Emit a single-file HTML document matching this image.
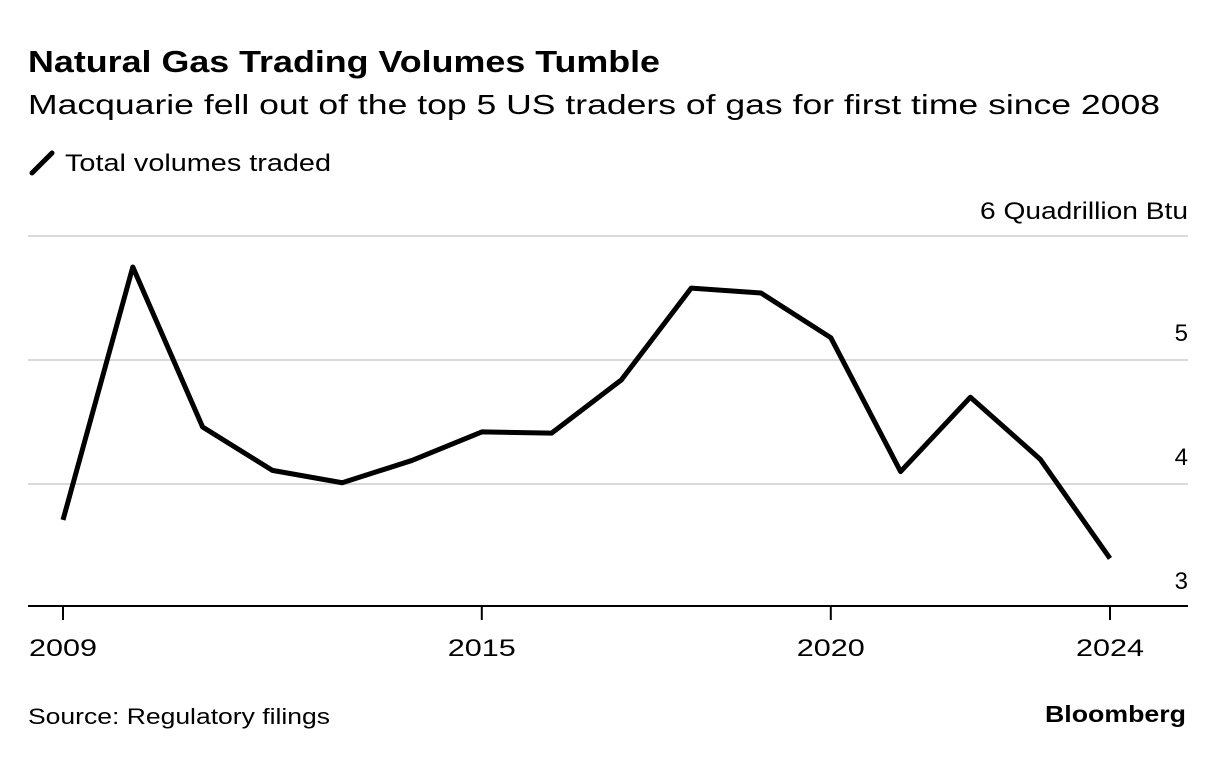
<!DOCTYPE html>
<html><head><meta charset="utf-8"><style>
body{margin:0;background:#fff;width:1223px;height:756px;overflow:hidden;font-family:"Liberation Sans",sans-serif;color:#000}
svg text{font-family:"Liberation Sans",sans-serif}
</style></head><body>
<svg width="1223" height="756">
<text x="28" y="72" font-size="31" font-weight="bold" textLength="632" lengthAdjust="spacingAndGlyphs">Natural Gas Trading Volumes Tumble</text>
<text x="28" y="114" font-size="28" textLength="1132" lengthAdjust="spacingAndGlyphs">Macquarie fell out of the top 5 US traders of gas for first time since 2008</text>
<line x1="32" y1="173" x2="52" y2="153" stroke="#000" stroke-width="5" stroke-linecap="round"/>
<text x="65" y="171" font-size="24" textLength="266" lengthAdjust="spacingAndGlyphs">Total volumes traded</text>
<g id="grid"></g>
<g id="xaxis"></g>
<path id="line" fill="none" stroke="#000" stroke-width="5" stroke-linejoin="round"/>
<text x="28" y="724" font-size="22" textLength="302" lengthAdjust="spacingAndGlyphs">Source: Regulatory filings</text>
<text x="1045" y="722" font-size="23" font-weight="bold" textLength="141" lengthAdjust="spacingAndGlyphs">Bloomberg</text>
</svg>
<script>
const years=[2009,2010,2011,2012,2013,2014,2015,2016,2017,2018,2019,2020,2021,2022,2023,2024];
const volumes=[3.71,5.75,4.46,4.11,4.01,4.19,4.42,4.41,4.84,5.58,5.54,5.18,4.10,4.70,4.20,3.40];
const yTicks=[3,4,5,6];
const yTickLabels=["3","4","5","6 Quadrillion Btu"];
const xTicks=[2009,2015,2020,2024];
const x=v=>63+(v-2009)*(1110-63)/15;
const y=v=>608-(v-3)*124;
const NS="http://www.w3.org/2000/svg";
const grid=document.getElementById('grid'),xa=document.getElementById('xaxis');
yTicks.forEach((t,i)=>{
  if(t>3){
    const l=document.createElementNS(NS,'line');
    l.setAttribute('x1',28);l.setAttribute('x2',1188);l.setAttribute('y1',y(t));l.setAttribute('y2',y(t));
    l.setAttribute('stroke','#d9d9d9');l.setAttribute('stroke-width','2');
    
    
    grid.appendChild(l);
  }
  const tx=document.createElementNS(NS,'text');
  tx.setAttribute('x',1188);tx.setAttribute('y',t===6?y(t)-17:y(t)-19);
  tx.setAttribute('text-anchor','end');tx.setAttribute('font-size','24');
  if(t===6){tx.setAttribute('textLength','208');tx.setAttribute('lengthAdjust','spacingAndGlyphs');tx.setAttribute('x',980);tx.setAttribute('text-anchor','start');}
  tx.textContent=yTickLabels[i];
  
  
  grid.appendChild(tx);
});
const base=document.createElementNS(NS,'line');
base.setAttribute('x1',28);base.setAttribute('x2',1188);base.setAttribute('y1',606);base.setAttribute('y2',606);
base.setAttribute('stroke','#000');base.setAttribute('stroke-width','2');


xa.appendChild(base);
xTicks.forEach(t=>{
  const l=document.createElementNS(NS,'line');
  l.setAttribute('x1',x(t));l.setAttribute('x2',x(t));l.setAttribute('y1',606);l.setAttribute('y2',620);
  l.setAttribute('stroke','#000');l.setAttribute('stroke-width','2');
  
  
  xa.appendChild(l);
  const tx=document.createElementNS(NS,'text');
  tx.setAttribute('x',x(t)-34);tx.setAttribute('y',656);tx.setAttribute('font-size','24');
  tx.setAttribute('textLength','68');tx.setAttribute('lengthAdjust','spacingAndGlyphs');
  tx.textContent=t;
  
  
  xa.appendChild(tx);
});
document.getElementById('line').setAttribute('d',years.map((yr,i)=>(i?'L':'M')+x(yr)+' '+y(volumes[i])).join(' '));
</script>
</body></html>
